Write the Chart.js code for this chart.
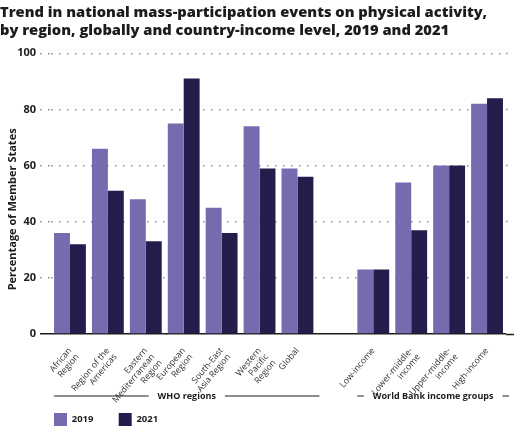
<!DOCTYPE html>
<html lang="en">
  <head>
    <meta charset="UTF-8" />
    <title>Mass-participation events</title>
    <style>
      html, body { margin: 0; padding: 0; background: #fff; }
      #wrap { position: relative; width: 531px; height: 433px; }
    </style>
  </head>
  <body>
    <div id="wrap"><canvas id="chart"></canvas></div>
    <script src="https://cdn.jsdelivr.net/npm/chart.js"></script>
    <script>
      // categories (empty one separates the two groups)
      const categories = [
        ["African", "Region"],
        ["Region of the", "Americas"],
        ["Eastern", "Mediterranean", "Region"],
        ["European", "Region"],
        ["South-East", "Asia Region"],
        ["Western", "Pacific", "Region"],
        "Global",
        "",
        "Low-income",
        ["Lower-middle-", "income"],
        ["Upper-middle-", "income"],
        "High-income",
      ];
      const values2019 = [36, 66, 48, 75, 45, 74, 59, null, 23, 54, 60, 82];
      const values2021 = [32, 51, 33, 91, 36, 59, 56, null, 23, 37, 60, 84];
      const yTicks = [0, 20, 40, 60, 80, 100];
      // groups: [label, first index, last index]
      const groups = [
        ["WHO regions", 0, 6],
        ["World Bank income groups", 8, 11],
      ];

      const dotDash = [1.5, 6.5];
      const gridColor = (c) => (c.tick && c.tick.value === 0 ? "#1c1c1c" : "#8c8c8c");
      const gridDash = (c) => (c.tick && c.tick.value === 0 ? [] : dotDash);

      // group captions with rules under the category labels
      const groupPlugin = {
        id: "groups",
        afterDraw(chart) {
          const x = chart.scales.x;
          const ctx = chart.ctx;
          const y = chart.scales.y.bottom + 62;
          ctx.save();
          ctx.font = "bold 9px 'Open Sans', sans-serif";
          ctx.fillStyle = "#1c1c1c";
          ctx.strokeStyle = "#1c1c1c";
          ctx.lineWidth = 1;
          ctx.textAlign = "center";
          ctx.textBaseline = "middle";
          groups.forEach(([label, a, b]) => {
            const left = x.getPixelForValue(a) - 16;
            const right = x.getPixelForValue(b) + 22;
            const mid = (left + right) / 2;
            const half = ctx.measureText(label).width / 2 + 9;
            ctx.fillText(label, mid, y);
            ctx.beginPath();
            ctx.moveTo(left, y);
            ctx.lineTo(mid - half, y);
            ctx.moveTo(mid + half, y);
            ctx.lineTo(right, y);
            ctx.stroke();
          });
          ctx.restore();
        },
      };

      new Chart(document.getElementById("chart"), {
        type: "bar",
        data: {
          labels: categories,
          datasets: [
            { label: "2019", data: values2019, backgroundColor: "#746cae" },
            { label: "2021", data: values2021, backgroundColor: "#231d4b" },
          ],
        },
        options: {
          responsive: true,
          maintainAspectRatio: false,
          animation: false,
          categoryPercentage: 0.84,
          barPercentage: 1,
          layout: { padding: { left: 0, right: 0, top: 0, bottom: -3 } },
          plugins: {
            title: {
              display: true,
              text: [
                "Trend in national mass-participation events on physical activity,",
                "by region, globally and country-income level, 2019 and 2021",
              ],
              align: "start",
              color: "#1c1c1c",
              font: { family: "'Open Sans', sans-serif", size: 14.7, weight: "800", lineHeight: 1.2 },
              padding: { top: 4, bottom: 14 },
            },
            legend: {
              position: "bottom",
              align: "start",
              fullSize: false,
              labels: {
                boxWidth: 13,
                boxHeight: 13,
                padding: 3,
                color: "#1c1c1c",
                font: { family: "'Open Sans', sans-serif", size: 9.5, weight: "bold" },
                generateLabels(chart) {
                  const items = Chart.defaults.plugins.legend.labels.generateLabels(chart);
                  items.forEach((it) => {
                    it.text = it.text + "         ";
                    it.lineWidth = 0;
                  });
                  return items;
                },
              },
            },
            tooltip: { enabled: false },
          },
          scales: {
            x: {
              z: 1,
              grid: { display: false },
              border: { display: false },
              ticks: {
                autoSkip: false,
                minRotation: 50,
                maxRotation: 50,
                padding: 4,
                color: "#333",
                font: { family: "'Open Sans', sans-serif", size: 8.7, lineHeight: 1.1 },
              },
              afterFit(s) { s.height = 76; },
            },
            y: {
              z: 1,
              min: 0,
              max: 100,
              afterBuildTicks(s) { s.ticks = yTicks.map((v) => ({ value: v })); },
              border: { display: false, dash: gridDash },
              grid: {
                color: gridColor,
                lineWidth: 1.5,
                tickLength: 11,
                tickColor: gridColor,
                tickBorderDash: gridDash,
              },
              ticks: {
                padding: 4,
                color: "#1c1c1c",
                font: { family: "'Open Sans', sans-serif", size: 11, weight: "bold" },
              },
              title: {
                display: true,
                // trailing spaces push the caption a little lower, as in the source
                text: "Percentage of Member States           ",
                color: "#1c1c1c",
                font: { family: "'Open Sans', sans-serif", size: 11, weight: "bold" },
                padding: { top: 6, bottom: 0 },
              },
              afterFit(s) { s.width = 51; },
            },
            y2: {
              position: "right",
              z: 1,
              min: 0,
              max: 100,
              afterBuildTicks(s) { s.ticks = yTicks.map((v) => ({ value: v })); },
              border: { display: false },
              grid: {
                drawOnChartArea: false,
                tickLength: 8,
                tickColor: gridColor,
                tickWidth: 1.5,
                tickBorderDash: gridDash,
              },
              ticks: { display: false },
              afterFit(s) { s.width = 25; },
            },
          },
        },
        plugins: [groupPlugin],
      });
    </script>
  </body>
</html>
